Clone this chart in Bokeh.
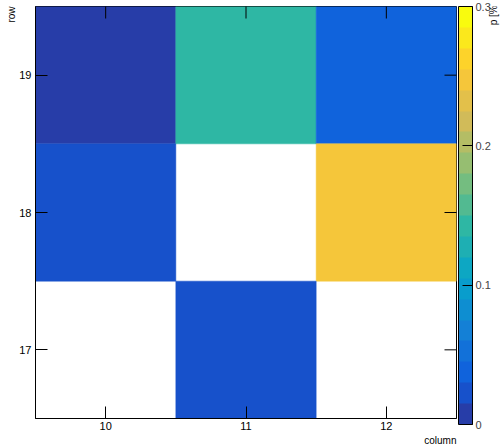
from bokeh.plotting import figure
from bokeh.layouts import row
from bokeh.models import (ColumnDataSource, LinearColorMapper, ColorBar, FixedTicker,
                          Range1d, Title, Label)
from bokeh.transform import transform
from bokeh.embed import file_html
from bokeh.resources import INLINE
import math

# ---- data ----
columns = [10, 10, 11, 12, 12, 11]
rows = [19, 18, 19, 19, 18, 17]
p_values = [0.008, 0.024, 0.142, 0.040, 0.250, 0.024]
x_ticks = [10, 11, 12]
y_ticks = [17, 18, 19]
z_ticks = [0, 0.1, 0.2, 0.3]
z_labels = ["0", "0.1", "0.2", "0.3"]

# ---- palette (ROOT kBird, 20 contour levels) ----
red = [0.2082, 0.0592, 0.0780, 0.0232, 0.1802, 0.5301, 0.8186, 0.9956, 0.9764]
green = [0.1664, 0.3599, 0.5041, 0.6419, 0.7178, 0.7492, 0.7328, 0.7862, 0.9832]
blue = [0.5293, 0.8684, 0.8385, 0.7914, 0.6425, 0.4662, 0.3499, 0.1968, 0.0539]

def bird(f):
    s = f * 8
    i = min(int(s), 7)
    t = s - i
    c = [ch[i] + (ch[i + 1] - ch[i]) * t for ch in (red, green, blue)]
    return "#%02x%02x%02x" % tuple(int(round(v * 255)) for v in c)

ncont = 20
palette = [bird(int((i + 0.99) * 255 / ncont) / 254) for i in range(ncont)]
mapper = LinearColorMapper(palette=palette, low=0, high=0.3)

xr = Range1d(9.5, 12.5)
yr = Range1d(16.5, 19.5)
FW, FH = 421, 412
TOP, BOTTOM = 6, 26
p = figure(frame_width=FW, frame_height=FH,
           output_backend="svg", toolbar_location=None,
           x_range=xr, y_range=yr,
           min_border_left=35, min_border_right=1, min_border_top=TOP, min_border_bottom=BOTTOM,
           x_axis_location="below", y_axis_location="left")
p.background_fill_color = "white"
p.border_fill_color = "white"
p.outline_line_color = "black"
p.grid.visible = False

src = ColumnDataSource(dict(x=columns, y=rows, v=p_values))
p.rect(x="x", y="y", width=1, height=1, source=src,
       fill_color=transform("v", mapper), line_color=transform("v", mapper), line_width=0.5)

# inward ticks on top and right edges (half of each dash is clipped by the frame)
p.scatter(x=x_ticks, y=[yr.end] * len(x_ticks), marker="dash", size=24, angle=math.pi / 2,
          line_color="black", line_width=1)
p.scatter(x=[xr.end] * len(y_ticks), y=y_ticks, marker="dash", size=24,
          line_color="black", line_width=1)

font = "Liberation Sans"

for ax in (p.xaxis[0], p.yaxis[0]):
    ax.axis_line_color = "black"
    ax.major_tick_in = 12
    ax.major_tick_out = 0
    ax.minor_tick_line_color = None
    ax.major_tick_line_color = "black"
    ax.major_label_text_font = font
    ax.major_label_text_color = "black"
    ax.major_label_text_font_size = "11px"
    ax.major_label_standoff = 4
p.xaxis.ticker = FixedTicker(ticks=x_ticks)
p.yaxis.ticker = FixedTicker(ticks=y_ticks)
p.yaxis.major_label_orientation = "horizontal"
p.xaxis.major_label_standoff = 3

p.add_layout(Title(text="row", align="right", text_font=font, text_font_size="10px",
                   text_font_style="normal", text_color="black", standoff=0, offset=0), "left")
p.add_layout(Title(text="column", align="right", text_font=font, text_font_size="10px",
                   text_font_style="normal", text_color="black", standoff=0, offset=0), "below")

# companion figure: colour bar and its title drawn inside its (invisible) frame
W2 = 44
H2 = FH + TOP + BOTTOM
p2 = figure(frame_width=W2, frame_height=H2, output_backend="svg", toolbar_location=None,
            x_range=Range1d(0, W2), y_range=Range1d(0, H2),
            min_border_left=0, min_border_right=0, min_border_top=0, min_border_bottom=0,
            x_axis_location=None, y_axis_location=None)
p2.outline_line_color = None
p2.grid.visible = False
p2.background_fill_color = "white"
p2.border_fill_color = "white"

cb = ColorBar(color_mapper=mapper, ticker=FixedTicker(ticks=z_ticks),
              major_label_overrides={t: l for t, l in zip(z_ticks, z_labels)},
              location=(1, BOTTOM), height=FH + 6,
              width=14, padding=0, margin=0, label_standoff=3,
              major_tick_in=10, major_tick_out=0, major_tick_line_color="black",
              minor_tick_line_color=None, bar_line_color="black",
              major_label_text_font=font, major_label_text_font_size="11px",
              background_fill_color=None, border_line_color=None)
p2.add_layout(cb)
p2.add_layout(Label(x=W2 - 8, y=H2 + 4, text="p [%]", angle=math.pi / 2,
                    text_align="right", text_baseline="middle",
                    text_font=font, text_font_size="10px", text_color="black"))

layout = row(p, p2, spacing=0)
open("out.html", "w").write(file_html(layout, INLINE))
